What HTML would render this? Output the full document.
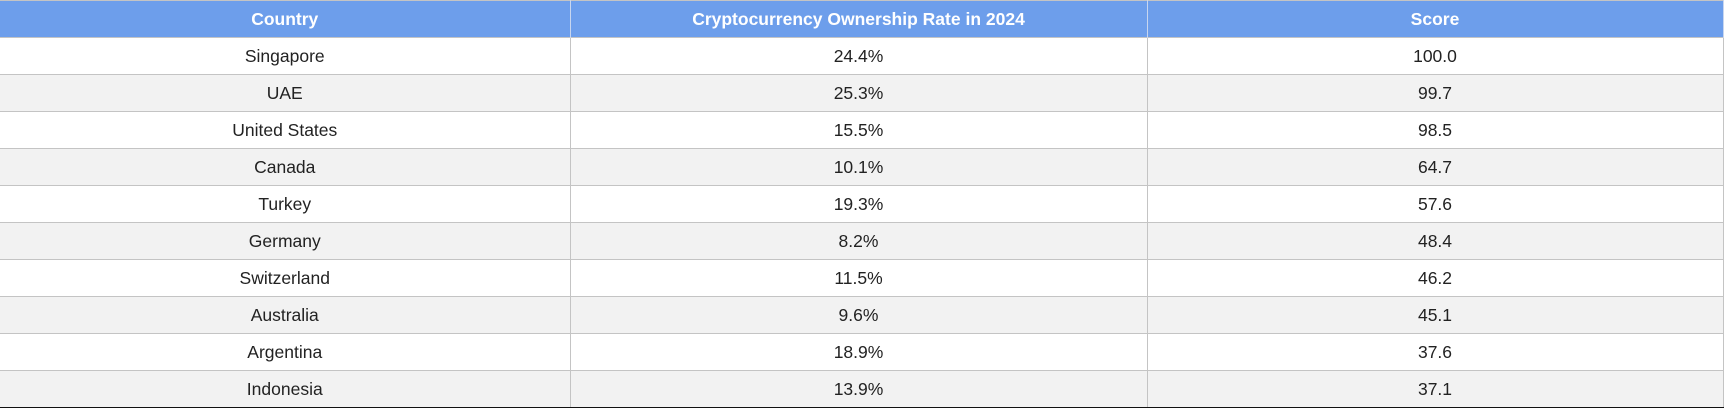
<!DOCTYPE html>
<html><head><meta charset="utf-8"><style>
html,body{margin:0;padding:0;width:1724px;height:408px;overflow:hidden;background:#fff}
table{border-collapse:collapse;width:1723px;table-layout:fixed;font-family:"Liberation Sans",Arial,sans-serif;font-size:17.5px;color:#222;border-top:1px solid #c4c4c4;border-right:1px solid #c4c4c4}
th{background:#6d9eeb;color:#fff;font-weight:bold;height:36px;padding:0;border-right:1px solid #c8d6ef;text-align:center}
td{height:36px;padding:0;text-align:center;border-top:1px solid #c4c4c4;border-right:1px solid #c4c4c4}
tr:nth-child(even) td{background:#f2f2f2}
tbody tr:last-child td{border-bottom:2px solid #111}
</style></head><body>
<table>
<colgroup><col style="width:570px"><col style="width:577px"><col style="width:576px"></colgroup>
<thead><tr>
<th>Country</th>
<th>Cryptocurrency Ownership Rate in 2024</th>
<th>Score</th></tr></thead>
<tbody>
<tr><td>Singapore</td><td>24.4%</td><td>100.0</td></tr>
<tr><td>UAE</td><td>25.3%</td><td>99.7</td></tr>
<tr><td>United States</td><td>15.5%</td><td>98.5</td></tr>
<tr><td>Canada</td><td>10.1%</td><td>64.7</td></tr>
<tr><td>Turkey</td><td>19.3%</td><td>57.6</td></tr>
<tr><td>Germany</td><td>8.2%</td><td>48.4</td></tr>
<tr><td>Switzerland</td><td>11.5%</td><td>46.2</td></tr>
<tr><td>Australia</td><td>9.6%</td><td>45.1</td></tr>
<tr><td>Argentina</td><td>18.9%</td><td>37.6</td></tr>
<tr><td>Indonesia</td><td>13.9%</td><td>37.1</td></tr>
</tbody></table>
</body></html>
